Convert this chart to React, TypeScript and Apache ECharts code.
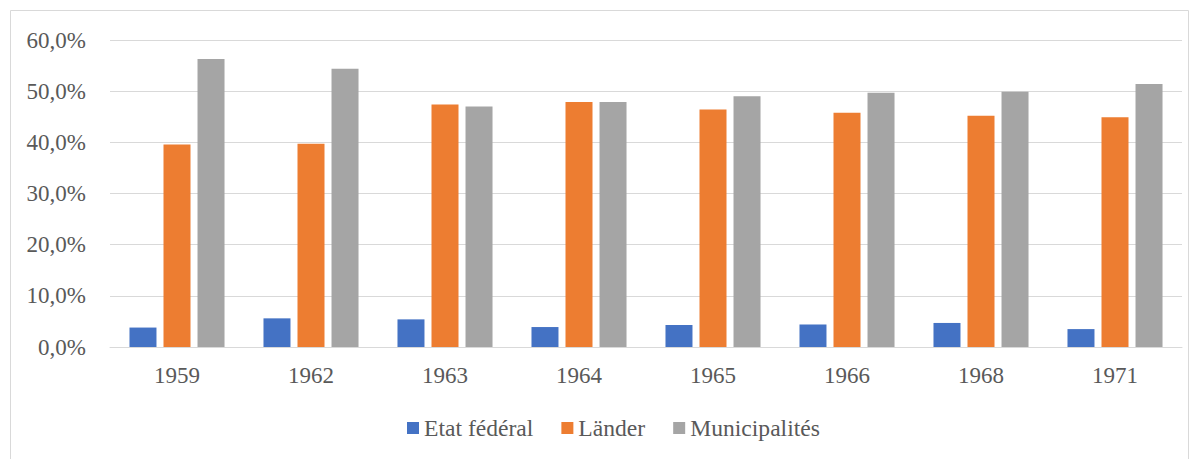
import React, { useEffect, useRef } from "react";
import * as echarts from "echarts";

const categories = ["1959", "1962", "1963", "1964", "1965", "1966", "1968", "1971"];
const etatFederal = [3.8, 5.6, 5.4, 3.9, 4.3, 4.4, 4.7, 3.5];
const lander = [39.6, 39.7, 47.4, 47.9, 46.4, 45.8, 45.2, 44.9];
const municipalites = [56.3, 54.4, 47.0, 47.9, 49.0, 49.7, 49.9, 51.4];
const seriesNames = ["Etat fédéral", "Länder", "Municipalités"];
const colors = ["#4472C4", "#ED7D31", "#A5A5A5"];

const FONT = "Liberation Serif";
const TXT = "#595959";
const FS = 23;

export default function App() {
  const ref = useRef<HTMLDivElement>(null);
  useEffect(() => {
    if (!ref.current) return;
    const chart = echarts.init(ref.current, undefined, { renderer: "svg" });
    const values = [etatFederal, lander, municipalites];
    chart.setOption({
      animation: false,
      backgroundColor: "#ffffff",
      textStyle: { fontFamily: FONT },
      graphic: [
        {
          type: "rect",
          shape: { x: 10.5, y: 10.5, width: 1178, height: 470 },
          style: { fill: "none", stroke: "#d9d9d9", lineWidth: 1 },
          silent: true,
        },
      ],
      grid: { left: 110, right: 18, top: 40, bottom: 112, containLabel: false },
      legend: {
        top: 416,
        left: 407,
        itemWidth: 12,
        itemHeight: 12,
        itemGap: 28,
        icon: "rect",
        padding: 0,
        textStyle: { color: TXT, fontFamily: FONT, fontSize: 23.6 },
        data: seriesNames,
      },
      xAxis: {
        type: "category",
        data: categories,
        axisLine: { lineStyle: { color: "#d9d9d9", width: 1 } },
        axisTick: { show: false },
        axisLabel: { color: TXT, fontFamily: FONT, fontSize: FS, margin: 17 },
      },
      yAxis: {
        type: "value",
        min: 0,
        max: 60,
        interval: 10,
        axisLine: { show: false },
        axisTick: { show: false },
        splitLine: { lineStyle: { color: "#d9d9d9", width: 1 } },
        axisLabel: {
          color: TXT,
          fontFamily: FONT,
          fontSize: FS,
          margin: 24,
          formatter: (v: number) => v.toFixed(1).replace(".", ",") + "%",
        },
      },
      series: seriesNames.map((name, i) => ({
        name,
        type: "bar",
        data: values[i],
        barWidth: 27,
        barGap: "26%",
        itemStyle: { color: colors[i] },
      })),
    });
    return () => chart.dispose();
  }, []);
  return (
    <div
      ref={ref}
      style={{ position: "fixed", left: 0, top: 0, width: 1200, height: 459 }}
    />
  );
}
